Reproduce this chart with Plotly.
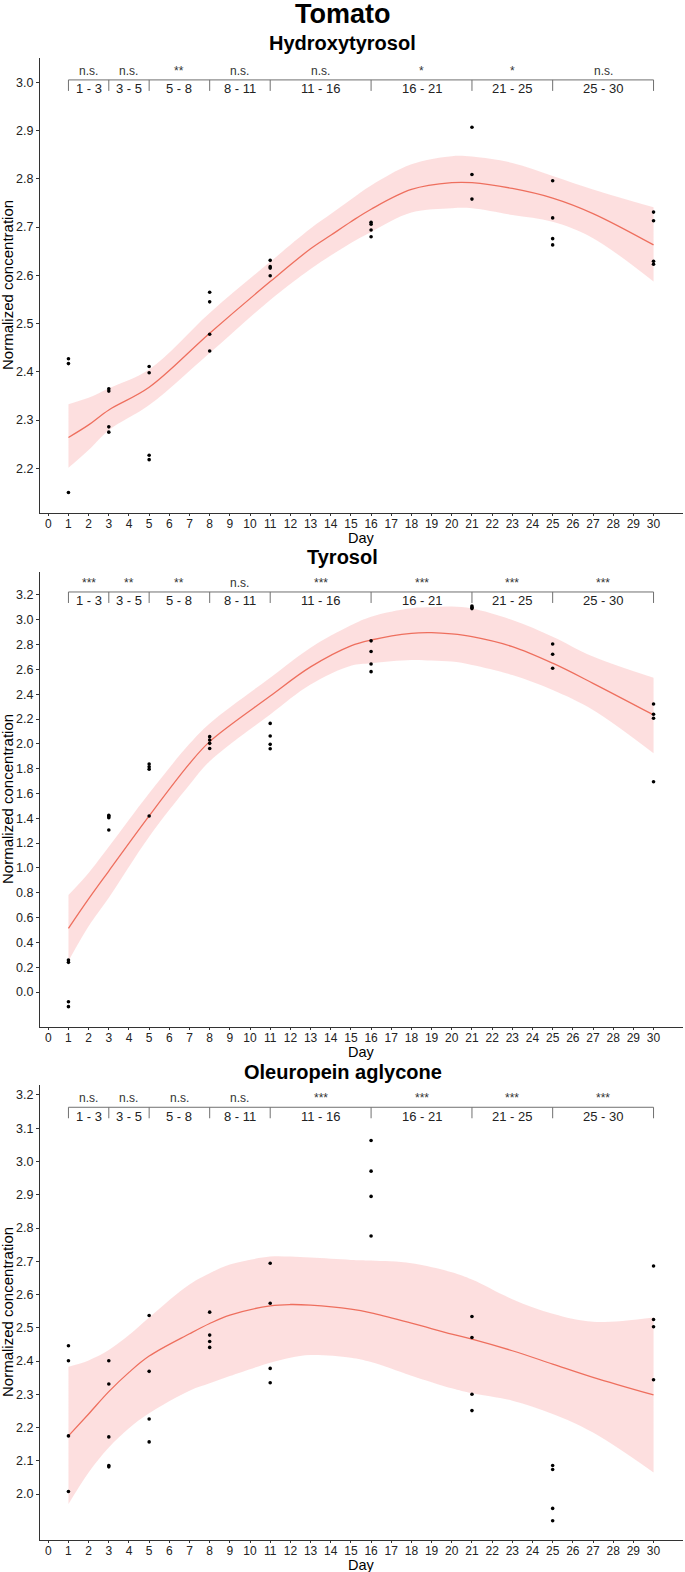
import plotly.graph_objects as go

# ---------------- data ----------------
# Hydroxytyrosol
hyd_day = [1, 1, 1, 3, 3, 3, 3, 5, 5, 5, 5, 8, 8, 8, 8, 11, 11, 11, 11,
           16, 16, 16, 16, 21, 21, 21, 25, 25, 25, 25, 30, 30, 30, 30]
hyd_val = [2.427, 2.417, 2.150, 2.365, 2.360, 2.286, 2.275, 2.411, 2.398, 2.227, 2.218,
           2.565, 2.545, 2.478, 2.443, 2.631, 2.618, 2.615, 2.599,
           2.710, 2.706, 2.694, 2.680, 2.907, 2.809, 2.758,
           2.796, 2.719, 2.676, 2.663, 2.731, 2.713, 2.629, 2.623]
hyd_fit_day = [1, 2, 3, 5, 8, 11, 13, 14, 15, 16, 18, 20, 21, 23, 25, 27, 30]
hyd_fit = [2.264, 2.290, 2.321, 2.368, 2.480, 2.587, 2.655, 2.683, 2.711, 2.737,
           2.778, 2.792, 2.792, 2.780, 2.760, 2.728, 2.663]
hyd_hi = [2.333, 2.346, 2.366, 2.405, 2.522, 2.628, 2.697, 2.727, 2.757, 2.786,
          2.830, 2.847, 2.846, 2.833, 2.806, 2.778, 2.741]
hyd_lo = [2.201, 2.238, 2.279, 2.331, 2.439, 2.549, 2.613, 2.641, 2.667, 2.690,
          2.730, 2.739, 2.739, 2.725, 2.711, 2.677, 2.587]
hyd_sig = ["n.s.", "n.s.", "**", "n.s.", "n.s.", "*", "*", "n.s."]

# Tyrosol
tyr_day = [1, 1, 1, 1, 3, 3, 3, 3, 5, 5, 5, 5, 8, 8, 8, 8, 11, 11, 11, 11,
           16, 16, 16, 16, 21, 21, 21, 25, 25, 25, 30, 30, 30, 30]
tyr_val = [0.258, 0.239, -0.078, -0.118, 1.425, 1.415, 1.405, 1.306,
           1.838, 1.816, 1.795, 1.419, 2.058, 2.031, 2.004, 1.963,
           2.165, 2.063, 1.996, 1.961, 2.830, 2.744, 2.644, 2.582,
           3.110, 3.100, 3.090, 2.805, 2.722, 2.609, 2.321, 2.238, 2.206, 1.695]
tyr_fit_day = [1, 2, 3, 5, 7, 8, 11, 13, 15, 16, 18, 19, 20, 21, 23, 25, 27, 30]
tyr_fit = [0.513, 0.750, 0.975, 1.419, 1.840, 2.018, 2.385, 2.620, 2.790, 2.837,
           2.891, 2.896, 2.886, 2.864, 2.784, 2.650, 2.488, 2.233]
tyr_hi = [0.782, 0.960, 1.170, 1.601, 2.000, 2.165, 2.533, 2.775, 2.955, 3.025,
          3.093, 3.100, 3.106, 3.090, 2.998, 2.864, 2.703, 2.532]
tyr_lo = [0.250, 0.530, 0.760, 1.252, 1.670, 1.860, 2.237, 2.478, 2.630, 2.650,
          2.676, 2.672, 2.663, 2.636, 2.555, 2.434, 2.273, 1.924]
tyr_sig = ["***", "**", "**", "n.s.", "***", "***", "***", "***"]

# Oleuropein aglycone
ole_day = [1, 1, 1, 1, 3, 3, 3, 3, 3, 5, 5, 5, 5, 8, 8, 8, 8, 11, 11, 11, 11,
           16, 16, 16, 16, 21, 21, 21, 21, 25, 25, 25, 25, 30, 30, 30, 30]
ole_val = [2.446, 2.401, 2.175, 2.008, 2.401, 2.331, 2.172, 2.086, 2.082,
           2.537, 2.369, 2.226, 2.157, 2.547, 2.478, 2.459, 2.441,
           2.694, 2.574, 2.378, 2.335, 3.063, 2.971, 2.895, 2.776,
           2.534, 2.471, 2.300, 2.251, 2.086, 2.074, 1.957, 1.920,
           2.686, 2.525, 2.503, 2.344]
ole_fit_day = [1, 2, 3, 4, 5, 7, 8, 9, 11, 12, 13, 15, 16, 18, 20, 21, 23, 25, 27, 30]
ole_fit = [2.175, 2.241, 2.308, 2.366, 2.415, 2.482, 2.513, 2.538, 2.566, 2.570,
           2.568, 2.556, 2.545, 2.514, 2.481, 2.466, 2.431, 2.391, 2.351, 2.298]
ole_hi = [2.383, 2.402, 2.433, 2.478, 2.531, 2.630, 2.664, 2.690, 2.714, 2.714,
          2.711, 2.704, 2.702, 2.694, 2.667, 2.645, 2.586, 2.542, 2.518, 2.531]
ole_lo = [1.970, 2.065, 2.140, 2.198, 2.243, 2.311, 2.333, 2.355, 2.395, 2.410,
          2.418, 2.410, 2.397, 2.356, 2.318, 2.303, 2.281, 2.241, 2.185, 2.065]
ole_sig = ["n.s.", "n.s.", "n.s.", "n.s.", "***", "***", "***", "***"]

intervals = [(1, 3), (3, 5), (5, 8), (8, 11), (11, 16), (16, 21), (21, 25), (25, 30)]
x_ticks = list(range(0, 31))

panel_titles = ["Hydroxytyrosol", "Tyrosol", "Oleuropein aglycone"]
main_title = "Tomato"

# ---------------- layout constants ----------------
W, H = 685, 1572
FONT = "Liberation Sans, Arial, sans-serif"
RIB = "rgba(246,120,120,0.24)"
LINE = "#EE6F5E"

panels = [
    dict(day=hyd_day, val=hyd_val, fd=hyd_fit_day, fit=hyd_fit, hi=hyd_hi, lo=hyd_lo,
         sig=hyd_sig, top=58, bot=513, yr=[2.1074, 3.0504], dt=0.1, t0=2.2, t1=3.0,
         br=3.005, title_y=43, day_y=538),
    dict(day=tyr_day, val=tyr_val, fd=tyr_fit_day, fit=tyr_fit, hi=tyr_hi, lo=tyr_lo,
         sig=tyr_sig, top=572, bot=1027, yr=[-0.282, 3.385], dt=0.2, t0=0.0, t1=3.2,
         br=3.224, title_y=557, day_y=1052),
    dict(day=ole_day, val=ole_val, fd=ole_fit_day, fit=ole_fit, hi=ole_hi, lo=ole_lo,
         sig=ole_sig, top=1085, bot=1540, yr=[1.862, 3.230], dt=0.1, t0=2.0, t1=3.2,
         br=3.163, title_y=1072, day_y=1565),
]

x0px, x1px = 40, 683
xr = [-0.41, 31.46]

fig = go.Figure()
annotations = []
layout_axes = {}

for i, p in enumerate(panels):
    n = "" if i == 0 else str(i + 1)
    xa, ya = "x" + n, "y" + n
    # ribbon
    fig.add_trace(go.Scatter(x=p["fd"], y=p["lo"], xaxis=xa, yaxis=ya, mode="lines",
                             line=dict(width=0, shape="spline", smoothing=1.0),
                             hoverinfo="skip", showlegend=False))
    fig.add_trace(go.Scatter(x=p["fd"], y=p["hi"], xaxis=xa, yaxis=ya, mode="lines",
                             line=dict(width=0, shape="spline", smoothing=1.0),
                             fill="tonexty", fillcolor=RIB, hoverinfo="skip",
                             showlegend=False))
    # fitted line
    fig.add_trace(go.Scatter(x=p["fd"], y=p["fit"], xaxis=xa, yaxis=ya, mode="lines",
                             line=dict(color=LINE, width=1.3, shape="spline", smoothing=1.0),
                             showlegend=False))
    # points
    fig.add_trace(go.Scatter(x=p["day"], y=p["val"], xaxis=xa, yaxis=ya, mode="markers",
                             marker=dict(color="black", size=3.6), showlegend=False))
    # brackets
    yspan = p["yr"][1] - p["yr"][0]
    drop = 11 / (p["bot"] - p["top"]) * yspan
    first = intervals[0][0]
    last = intervals[-1][1]
    fig.add_trace(go.Scatter(x=[first, last], y=[p["br"], p["br"]], xaxis=xa, yaxis=ya,
                             mode="lines", line=dict(color="#707070", width=1),
                             hoverinfo="skip", showlegend=False))
    bounds = sorted(set([a for a, b in intervals] + [b for a, b in intervals]))
    for d in bounds:
        fig.add_trace(go.Scatter(x=[d, d], y=[p["br"], p["br"] - drop], xaxis=xa, yaxis=ya,
                                 mode="lines", line=dict(color="#707070", width=1),
                                 hoverinfo="skip", showlegend=False))
    for (a, b), s in zip(intervals, p["sig"]):
        mid = (a + b) / 2
        annotations.append(dict(x=mid, y=p["br"], xref=xa, yref=ya, text=s,
                                showarrow=False, yshift=9, yanchor="middle",
                                font=dict(family=FONT, size=12, color="#333")))
        annotations.append(dict(x=mid, y=p["br"], xref=xa, yref=ya, text=f"{a} - {b}",
                                showarrow=False, yshift=-9, yanchor="middle",
                                font=dict(family=FONT, size=13, color="#222")))
    # titles
    annotations.append(dict(x=342.5 / W, y=1 - p["title_y"] / H, xref="paper", yref="paper",
                            text="<b>" + panel_titles[i] + "</b>", showarrow=False,
                            yanchor="middle", font=dict(family=FONT, size=20, color="black")))
    annotations.append(dict(x=(x0px + x1px) / 2 / W, y=1 - p["day_y"] / H, xref="paper",
                            yref="paper", text="Day", showarrow=False, yanchor="middle",
                            borderpad=0,
                            font=dict(family=FONT, size=14.5, color="black")))
    annotations.append(dict(x=7.5 / W, y=1 - (p["top"] + p["bot"]) / 2 / H, xref="paper",
                            yref="paper", text="Normalized concentration", textangle=-90,
                            showarrow=False, xanchor="center", yanchor="middle",
                            font=dict(family=FONT, size=15, color="black")))
    nt = int(round((p["t1"] - p["t0"]) / p["dt"])) + 1
    yt = [round(p["t0"] + k * p["dt"], 2) for k in range(nt)]
    layout_axes["xaxis" + n] = dict(domain=[x0px / W, x1px / W], range=xr, anchor=ya,
                                    tickvals=x_ticks, ticktext=[str(t) for t in x_ticks],
                                    showline=True, linecolor="#333", linewidth=1,
                                    ticks="outside", ticklen=2, tickcolor="#333",
                                    ticklabelstandoff=-2,
                                    showgrid=False, zeroline=False,
                                    tickfont=dict(family=FONT, size=12, color="#222"))
    layout_axes["yaxis" + n] = dict(domain=[1 - p["bot"] / H, 1 - p["top"] / H],
                                    range=p["yr"], anchor=xa, tickvals=yt,
                                    ticktext=[f"{v:.1f}" for v in yt],
                                    showline=True, linecolor="#333", linewidth=1,
                                    ticks="outside", ticklen=3, tickcolor="#333",
                                    showgrid=False, zeroline=False,
                                    tickfont=dict(family=FONT, size=12.5, color="#222"))

annotations.append(dict(x=342.5 / W, y=1 - 14 / H, xref="paper", yref="paper",
                        text="<b>" + main_title + "</b>", showarrow=False, yanchor="middle",
                        font=dict(family=FONT, size=27, color="black")))

fig.update_layout(width=W, height=H, margin=dict(l=0, r=0, t=0, b=0),
                  paper_bgcolor="white", plot_bgcolor="white",
                  annotations=annotations, showlegend=False, **layout_axes)

fig.write_html("out.html", config={"displayModeBar": False},
               post_script="document.body.style.margin='0';")
